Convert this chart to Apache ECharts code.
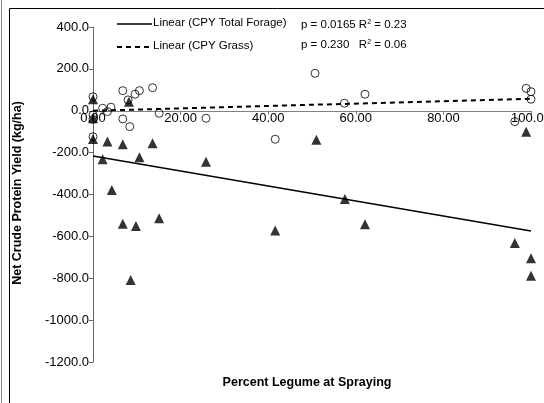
<!DOCTYPE html>
<html>
<head>
<meta charset="utf-8">
<script src="https://cdn.jsdelivr.net/npm/echarts@6/dist/echarts.min.js"></script>
<style>html,body{margin:0;padding:0;background:#fff;}#c{width:544px;height:403px;}</style>
</head>
<body>
<div id="c"></div>
<script>
// Grass (open circles)
const grassX = [0,0,0,0,2.2,3.3,4.1,6.8,6.8,8.0,8.4,9.6,10.6,13.6,15.1,25.8,41.6,50.7,57.4,62.1,96.3,98.9,100,100];
const grassY = [67,-20,-41,-124,12,-4,17,96,-39,52,-76,79,96,110,-12,-36,-136,179,36,79,-52,107,91,55];
// Total forage (filled triangles)
const totalX = [0,0,0,2.2,3.3,4.3,6.8,6.8,8.2,8.6,9.8,10.6,13.6,15.1,25.8,41.6,51,57.5,62.1,96.3,98.9,100,100];
const totalY = [55,-36,-135,-232,-147,-378,-160,-540,43,-808,-550,-222,-155,-513,-243,-572,-139,-422,-542,-632,-100,-704,-788];
// Linear trend endpoints
const trendX = [0, 100];
const totalTrendY = [-216, -574];
const grassTrendY = [0, 57];
// Axis ticks
const xTicks = [0, 20, 40, 60, 80, 100];
const yTicks = [-1200, -1000, -800, -600, -400, -200, 0, 200, 400];

const FONT = '"Liberation Sans", Arial, sans-serif';
const pair = (xs, ys) => xs.map((x, i) => [x, ys[i]]);

const G = {left: 93, right: 13, top: 27, bottom: 41};
const gridH = 403 - G.top - G.bottom;
const yMin = yTicks[0], yMax = yTicks[yTicks.length - 1];
// place the x axis where y = 0 crosses (like Excel)
const xAxisOffset = -((0 - yMin) / (yMax - yMin)) * gridH;

const chart = echarts.init(document.getElementById('c'), null, {renderer: 'canvas'});
chart.setOption({
  animation: false,
  backgroundColor: '#fff',
  grid: Object.assign({containLabel: false, outerBoundsMode: 'none'}, G),
  xAxis: {
    type: 'value', min: xTicks[0], max: xTicks[xTicks.length - 1], interval: 20,
    position: 'bottom', offset: xAxisOffset,
    axisLine: {show: true, onZero: false, lineStyle: {color: '#808080', width: 1}},
    axisTick: {show: true, length: 4, lineStyle: {color: '#808080'}},
    axisLabel: {margin: 1, color: '#000', fontFamily: FONT, fontSize: 13, formatter: v => v.toFixed(2)},
    splitLine: {show: false}
  },
  yAxis: {
    type: 'value', min: yMin, max: yMax, interval: 200,
    axisLine: {show: true, onZero: false, lineStyle: {color: '#666', width: 1}},
    axisTick: {show: true, length: 4, lineStyle: {color: '#666'}},
    axisLabel: {margin: 4, color: '#000', fontFamily: FONT, fontSize: 13, formatter: v => v.toFixed(1)},
    splitLine: {show: false}
  },
  series: [
    {type: 'line', data: pair(trendX, totalTrendY), symbol: 'none', lineStyle: {color: '#000', width: 1.5}, z: 2},
    {type: 'line', data: pair(trendX, grassTrendY), symbol: 'none', lineStyle: {color: '#000', width: 2, type: [5, 4]}, z: 2},
    {type: 'scatter', data: pair(totalX, totalY), symbol: 'triangle', symbolSize: 10, itemStyle: {color: '#000'}, z: 3},
    {type: 'scatter', data: pair(grassX, grassY), symbol: 'circle', symbolSize: 8, itemStyle: {color: 'rgba(0,0,0,0)', borderColor: '#000', borderWidth: 1}, z: 4}
  ],
  graphic: [
    {type: 'rect', shape: {x: 9.5, y: 8.5, width: 600, height: 500}, style: {fill: 'none', stroke: '#000', lineWidth: 1}, silent: true},
    {type: 'line', shape: {x1: 1.5, y1: 0, x2: 1.5, y2: 403}, style: {stroke: '#888', lineWidth: 1}, silent: true},
    {type: 'line', shape: {x1: 117, y1: 24, x2: 152, y2: 24}, style: {stroke: '#000', lineWidth: 1.5}},
    {type: 'text', left: 153, top: 17, style: {text: 'Linear (CPY Total Forage)', font: '11.5px ' + FONT, fill: '#000'}},
    {type: 'line', shape: {x1: 117, y1: 47, x2: 152, y2: 47}, style: {stroke: '#000', lineWidth: 2, lineDash: [5, 4]}},
    {type: 'text', left: 153, top: 40, style: {text: 'Linear (CPY Grass)', font: '11.5px ' + FONT, fill: '#000'}},
    {type: 'text', left: 301, top: 19, style: {
      text: '{a|p = 0.0165 R}{s|2}{a| = 0.23}',
      rich: {a: {fontFamily: FONT, fontSize: 11.5, fill: '#000'}, s: {fontFamily: FONT, fontSize: 7, fill: '#000', verticalAlign: 'top', padding: [0, 0, 5, 0]}}
    }},
    {type: 'text', left: 301, top: 39, style: {
      text: '{a|p = 0.230   R}{s|2}{a| = 0.06}',
      rich: {a: {fontFamily: FONT, fontSize: 11.5, fill: '#000'}, s: {fontFamily: FONT, fontSize: 7, fill: '#000', verticalAlign: 'top', padding: [0, 0, 5, 0]}}
    }},
    {type: 'text', x: 18, y: 193, rotation: Math.PI / 2, style: {text: 'Net Crude Protein Yield (kg/ha)', font: 'bold 12.5px ' + FONT, fill: '#000', align: 'center', verticalAlign: 'middle'}},
    {type: 'text', x: 307, y: 383, style: {text: 'Percent Legume at Spraying', font: 'bold 12.5px ' + FONT, fill: '#000', align: 'center', verticalAlign: 'middle'}}
  ]
});
</script>
</body>
</html>
